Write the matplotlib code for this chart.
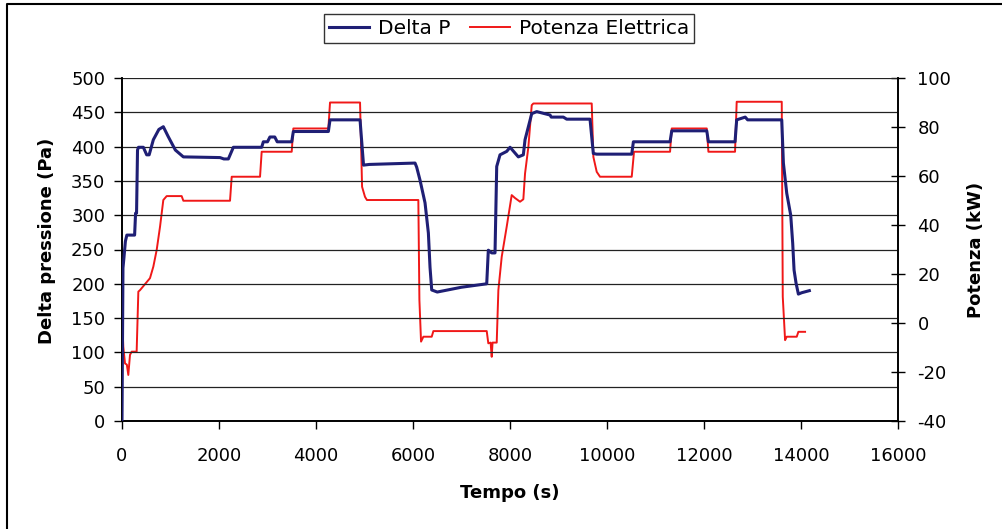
import matplotlib
matplotlib.use("Agg")
import matplotlib.pyplot as plt
from matplotlib.lines import Line2D

plt.rcParams['font.family'] = ['DejaVu Sans']
plt.rcParams['axes.unicode_minus'] = False

# Delta P (Pa) vs tempo (s)
t_dp = [0, 20, 40, 70, 100, 260, 280, 300, 320, 340, 440, 509, 560, 646, 760, 852, 950,
        1100, 1265, 2021, 2100, 2193, 2296, 2880, 2914, 3000, 3050, 3150, 3200, 3499,
        3533, 4255, 4289, 4908, 4980, 5100, 6042, 6076, 6145, 6248, 6317, 6351, 6386,
        6500, 7000, 7520, 7553, 7623, 7691, 7726, 7794, 7932, 8001, 8172, 8275, 8310,
        8448, 8551, 8826, 8850, 9100, 9169, 9650, 9718, 9788, 10510, 10544, 11300,
        11335, 12057, 12091, 12640, 12674, 12850, 12900, 13603, 13637, 13706, 13788,
        13829, 13857, 13898, 13946, 14015, 14172]
delta_p = [0, 223, 238, 262, 271, 271, 303, 303, 395, 399, 399, 388, 388, 410, 425, 429, 415,
           395, 385, 384, 382, 382, 399, 399, 407, 407, 414, 414, 407, 407,
           422, 422, 439, 439, 373, 374, 376, 370, 351, 318, 274, 224, 191,
           188, 195, 200, 249, 245, 245, 371, 388, 393, 399, 385, 388, 410,
           448, 451, 446, 443, 443, 440, 440, 390, 389, 389, 407, 407,
           423, 423, 407, 407, 439, 443, 439, 439, 376, 332, 300,
           259, 220, 201, 185, 187, 190]

# Potenza elettrica (kW) vs tempo (s)
t_pot = [0, 15, 27, 62, 100, 130, 165, 199, 302, 337, 371, 577, 646, 715, 784, 852, 921,
         1230, 1265, 2227, 2262, 2846, 2880, 3499, 3533, 4255, 4289, 4908, 4950, 5010,
         5050, 6110, 6132, 6166, 6214, 6386, 6420, 7520, 7553, 7600, 7623, 7640, 7726,
         7760, 7829, 7932, 8035, 8104, 8207, 8275, 8310, 8379, 8448, 8482, 9685, 9719,
         9788, 9856, 10510, 10557, 11300, 11335, 12057, 12091, 12640, 12674, 13603,
         13624, 13672, 13706, 13912, 13946, 14084]
potenza = [0, -4, -9.7, -16.5, -17, -21.2, -13, -11.7, -11.7, 12.8, 13.4, 18.3, 23, 29.8, 39.3, 50.2, 51.8,
           51.8, 49.9, 49.9, 59.7, 59.7, 69.9, 69.9, 79.4, 79.4, 90, 90, 55.6, 51.5,
           50.2, 50.2, 9.4, -7.6, -5.6, -5.6, -3.3, -3.3, -8.3, -8, -13.8, -8, -8,
           13.4, 27, 39.3, 52.2, 51, 49.5, 50.5, 61, 71.9, 88.9, 89.6, 89.6, 67.8,
           61.7, 59.7, 59.7, 69.9, 69.9, 79.4, 79.4, 69.9, 69.9, 90.3, 90.3,
           10.7, -7, -5.6, -5.6, -3.6, -3.6]

fig = plt.figure(figsize=(10.03, 5.29), dpi=100)
ax = fig.add_axes([122 / 1003, 1 - 421 / 529, 776 / 1003, 343 / 529])
ax2 = ax.twinx()

ax.set_xlim(0, 16000)
ax.set_ylim(0, 500)
ax2.set_ylim(-40, 100)
ax.set_xticks(range(0, 16001, 2000))
ax.set_yticks(range(0, 501, 50))
ax2.set_yticks(range(-40, 101, 20))

ax.yaxis.grid(True, color='#222222', lw=0.9)
ax.set_axisbelow(True)

l1, = ax.plot(t_dp, delta_p, color='#1f1f75', lw=2.2, label='Delta P', zorder=3)
l2, = ax2.plot(t_pot, potenza, color='#f01818', lw=1.4, label='Potenza Elettrica')
# blue line drawn on top of the red
ax.set_zorder(ax2.get_zorder() + 1)
ax.patch.set_visible(False)

for a in (ax, ax2):
    a.spines['top'].set_visible(False)
    for s in ('left', 'right', 'bottom'):
        a.spines[s].set_color('black')
        a.spines[s].set_linewidth(1.2)

ax.tick_params(axis='x', direction='out', length=6, width=1, pad=13, labelsize=13)
ax.tick_params(axis='y', direction='out', length=6, width=1, pad=6, labelsize=13)
ax2.tick_params(axis='y', direction='inout', length=10, width=1, pad=9, labelsize=13)

ax.set_xlabel('Tempo (s)', fontsize=13, fontweight='bold')
ax.xaxis.set_label_coords(0.5, -0.183)
ax.set_ylabel('Delta pressione (Pa)', fontsize=13, fontweight='bold')
ax.yaxis.set_label_coords(-0.085, 0.525)
ax2.set_ylabel('Potenza (kW)', fontsize=13, fontweight='bold')
ax2.yaxis.set_label_coords(1.089, 0.5)

leg = fig.legend(handles=[l1, l2], loc='center', bbox_to_anchor=(509 / 1003, 1 - 28.5 / 529),
                 ncol=2, fontsize=14.5, frameon=True, fancybox=False, handlelength=2.0,
                 handletextpad=0.4, columnspacing=1.0, borderpad=0.25)
leg.get_frame().set_edgecolor('black')
leg.get_frame().set_linewidth(1)

# outer chart border (left and top edges visible)
fig.lines.append(Line2D([7 / 1003, 7 / 1003, 1.0], [0.0, 1 - 4 / 529, 1 - 4 / 529],
                        transform=fig.transFigure, color='black', lw=1.5))

fig.savefig("out.png", dpi=100)
